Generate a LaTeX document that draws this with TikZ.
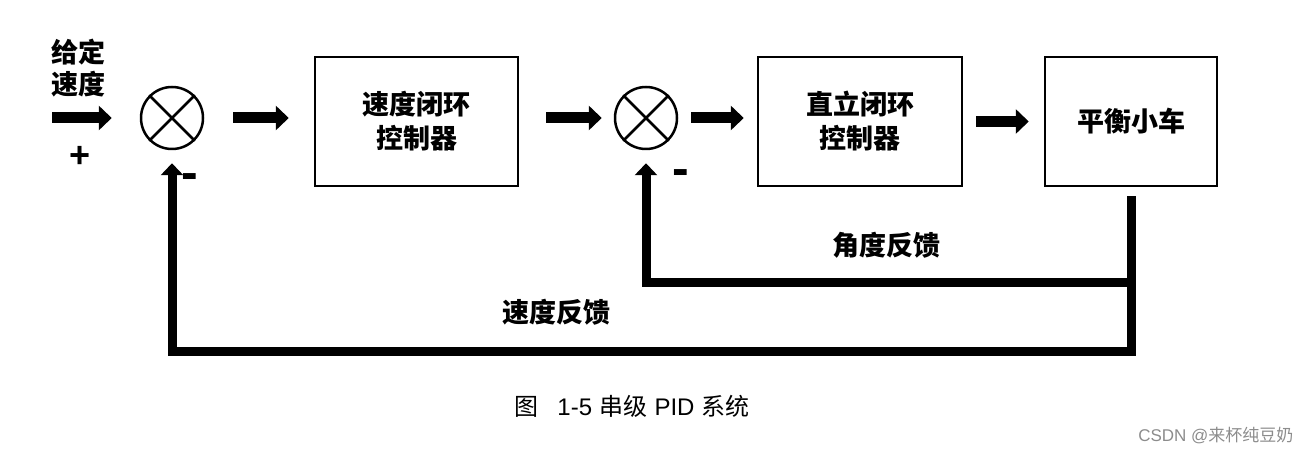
\documentclass[tikz,border=0pt]{standalone}
\usepackage{fontspec}
\setmainfont{Noto Sans CJK SC}
\newfontfamily\latinfont{Liberation Sans}
\usetikzlibrary{arrows.meta}
\tikzset{
  blockbox/.style={draw, line width=2.5pt, minimum height=129pt, align=center,
    font=\fontsize{27}{34}\selectfont\bfseries},
  sumnode/.style={draw, circle, line width=2.5pt, minimum size=62pt, inner sep=0pt},
  fwdarrow/.style={line width=11pt, -{Triangle[length=13pt,width=24pt]}},
  fbline/.style={line width=9pt, line join=miter, -{Triangle[length=12pt,width=22pt]}},
  cnlabel/.style={font=\fontsize{27}{32}\selectfont\bfseries, align=center},
  signlabel/.style={font=\fontsize{36}{40}\selectfont\latinfont\bfseries, inner sep=0pt},
  minuslabel/.style={font=\fontsize{50}{54}\selectfont\latinfont\bfseries, inner sep=0pt}
}
\begin{document}
\begin{tikzpicture}[x=1pt,y=-1pt]
\useasboundingbox (0,0) rectangle (1309,454);
			\node[sumnode] (sum1) at (172,118) {};
			\node[sumnode] (sum2) at (646,118) {};
			\draw[line width=2.5pt] (sum1.north west)--(sum1.south east) (sum1.north east)--(sum1.south west);
			\draw[line width=2.5pt] (sum2.north west)--(sum2.south east) (sum2.north east)--(sum2.south west);
			\node[blockbox, minimum width=203pt] (speedctrl) at (416.5,121.5) {速度闭环\\控制器};
			\node[blockbox, minimum width=204pt] (uprightctrl) at (860,121.5) {直立闭环\\控制器};
			\node[blockbox, minimum width=172pt] (car) at (1131,121.5) {平衡小车};
			\coordinate (setin) at (52,118);
			\coordinate (anglefb) at (1131,283);
			\coordinate (speedfb) at (1131,351);
			% forward path
			\draw[fwdarrow, shorten >=28pt] (setin) -- (sum1.west);
			\draw[fwdarrow, shorten <=29pt, shorten >=25pt] (sum1.east) -- (sum1.east -| speedctrl.west);
			\draw[fwdarrow, shorten <=27pt, shorten >=12pt] (sum2.west -| speedctrl.east) -- (sum2.west);
			\draw[fwdarrow, shorten <=13pt, shorten >=13pt] (sum2.east) -- (sum2.east -| uprightctrl.west);
			\draw[fwdarrow, shorten <=13pt, shorten >=15pt] (uprightctrl.east) -- (car.west);
			% feedback
			\draw[fbline, shorten <=9pt, shorten >=13pt] (car.south) -- (speedfb) -| (sum1.south);
			\draw[fbline, shorten >=13pt] (anglefb) -| (sum2.south);
			\node[cnlabel] (setlabel) at (78,68) {给定\\速度};
			\node[signlabel] (plus) at (80,157) {+};
			\node[minuslabel] (minus1) at (190,182) {-};
			\node[minuslabel] (minus2) at (681,178) {-};
			\node[cnlabel] (anglelabel) at (886,245) {角度反馈};
			\node[cnlabel] (speedlabel) at (556,312) {速度反馈};
			\node[font=\fontsize{24}{28}\selectfont] (caption) at (632,406) {图\hspace{0.8em}{\latinfont 1-5}\hspace{0.3em}串级\hspace{0.3em}{\latinfont PID}\hspace{0.3em}系统};
			\node[font=\fontsize{17}{20}\selectfont, text=black!45, anchor=east] (mark) at (1297,436) {{\latinfont CSDN @}来杯纯豆奶};
\end{tikzpicture}
\end{document}
